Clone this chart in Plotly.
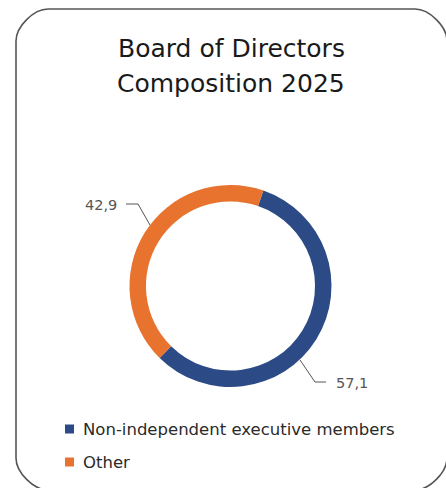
import plotly.graph_objects as go

W, H = 446, 488

title_lines = ['Board of Directors', 'Composition 2025']
labels = ['Non-independent executive members', 'Other']
values = [57.1, 42.9]
colors = ['#2C4A85', '#E8732F']


def px(x):
    return x / W


def py(y):
    return 1 - y / H


def fmt(v):
    return f'{v:.1f}'.replace('.', ',')


fig = go.Figure(go.Pie(
    labels=labels, values=values, sort=False, direction='clockwise',
    rotation=19, hole=0.837, textinfo='none', hoverinfo='label+value',
    marker=dict(colors=colors, line=dict(width=0)),
    domain=dict(x=[px(129.5), px(331.5)], y=[py(387), py(185)]),
    showlegend=False))

# rounded frame
x0, y0, x1, y1, r = 16, 9, 447, 490, 32
k = r * 0.45
frame = (f'M {px(x0 + r)},{py(y0)} L {px(x1 - r)},{py(y0)} '
         f'C {px(x1 - r + k)},{py(y0)} {px(x1)},{py(y0 + r - k)} {px(x1)},{py(y0 + r)} '
         f'L {px(x1)},{py(y1 - r)} '
         f'C {px(x1)},{py(y1 - r + k)} {px(x1 - r + k)},{py(y1)} {px(x1 - r)},{py(y1)} '
         f'L {px(x0 + r)},{py(y1)} '
         f'C {px(x0 + r - k)},{py(y1)} {px(x0)},{py(y1 - r + k)} {px(x0)},{py(y1 - r)} '
         f'L {px(x0)},{py(y0 + r)} '
         f'C {px(x0)},{py(y0 + r - k)} {px(x0 + r - k)},{py(y0)} {px(x0 + r)},{py(y0)} Z')
shapes = [dict(type='path', xref='paper', yref='paper', path=frame,
               line=dict(color='#555555', width=1.6))]

# leader lines for the value labels
leaders = [[(300, 360), (315, 382), (326, 382)],
           [(150, 225), (138, 204), (126, 204)]]
for pts in leaders:
    path = 'M ' + ' L '.join(f'{px(a)},{py(b)}' for a, b in pts)
    shapes.append(dict(type='path', xref='paper', yref='paper', path=path,
                       line=dict(color='#555555', width=1)))

annotations = []
font = 'DejaVu Sans'
for i, t in enumerate(title_lines):
    annotations.append(dict(text=t, x=px(231), y=py(49 + 35 * i), xref='paper', yref='paper',
                            showarrow=False, xanchor='center', yanchor='middle',
                            font=dict(family=font, size=25, color='#1a1a1a')))

annotations.append(dict(text=fmt(values[0]), x=px(334), y=py(383), xref='paper', yref='paper',
                        showarrow=False, xanchor='left', yanchor='middle',
                        font=dict(family=font, size=14.5, color='#555555')))
annotations.append(dict(text=fmt(values[1]), x=px(119), y=py(205), xref='paper', yref='paper',
                        showarrow=False, xanchor='right', yanchor='middle',
                        font=dict(family=font, size=14.5, color='#555555')))

# legend
for i, (lab, c) in enumerate(zip(labels, colors)):
    yc = 429 + 33 * i
    shapes.append(dict(type='rect', xref='paper', yref='paper',
                       x0=px(65), x1=px(74), y0=py(yc - 4.5), y1=py(yc + 4.5),
                       fillcolor=c, line=dict(width=0)))
    annotations.append(dict(text=lab, x=px(81), y=py(yc), xref='paper', yref='paper',
                            showarrow=False, xanchor='left', yanchor='middle',
                            font=dict(family=font, size=16.5, color='#2a2a2a')))

fig.update_layout(width=W, height=H, margin=dict(l=0, r=0, t=0, b=0),
                  paper_bgcolor='white', plot_bgcolor='white',
                  shapes=shapes, annotations=annotations)

fig.write_html('out.html', config={'displayModeBar': False},
               post_script="document.body.style.margin = '0';")
